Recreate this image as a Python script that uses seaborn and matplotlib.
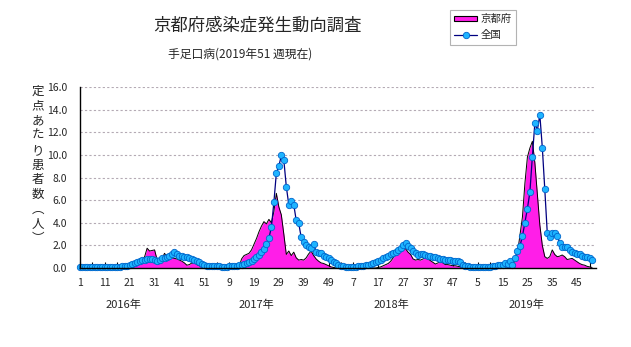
import numpy as np
import pandas as pd
import matplotlib
matplotlib.use('Agg')
import matplotlib.pyplot as plt
import seaborn as sns
from matplotlib.lines import Line2D
from matplotlib.patches import Patch

# ---------------- data ----------------
years = ['2016年', '2017年', '2018年', '2019年']
weeks_per_year = [52, 52, 52, 51]

kyoto_2016 = [0.0, 0.0, 0.0, 0.0, 0.0, 0.0, 0.0, 0.0, 0.0, 0.0, 0.0, 0.0, 0.0,
              0.0, 0.0, 0.0, 0.02, 0.05, 0.1, 0.15, 0.2, 0.3, 0.4, 0.5, 0.55,
              0.7, 1.0, 1.75, 1.5, 1.55, 1.6, 0.75, 0.7, 0.8, 1.3, 1.0, 0.85,
              0.9, 0.85, 0.8, 0.7, 0.6, 0.45, 0.25, 0.3, 0.45, 0.5, 0.3, 0.2,
              0.1, 0.05, 0.0]
kyoto_2017 = [0.0, 0.0, 0.0, 0.0, 0.0, 0.0, 0.0, 0.0, 0.0, 0.0, 0.0, 0.0, 0.1,
              0.8, 1.1, 1.2, 1.3, 1.6, 2.1, 2.6, 3.2, 3.7, 4.1, 3.9, 4.3, 4.0,
              5.0, 6.6, 5.4, 4.7, 3.0, 1.2, 1.5, 1.1, 1.4, 0.9, 0.7, 0.75, 0.7,
              0.9, 1.25, 1.5, 1.1, 0.8, 0.6, 0.45, 0.4, 0.3, 0.2, 0.1, 0.05, 0.0]
kyoto_2018 = [0.0, 0.0, 0.0, 0.0, 0.0, 0.0, 0.0, 0.0, 0.0, 0.0, 0.0, 0.0, 0.0,
              0.0, 0.0, 0.0, 0.05, 0.1, 0.2, 0.3, 0.4, 0.6, 0.9, 1.2, 1.4, 1.6,
              1.75, 1.7, 1.4, 1.2, 0.8, 0.7, 0.75, 0.7, 0.8, 0.9, 0.8, 0.65,
              0.5, 0.35, 0.45, 0.55, 0.45, 0.3, 0.3, 0.25, 0.2, 0.2, 0.15, 0.1,
              0.05, 0.0]
kyoto_2019 = [0.0, 0.0, 0.0, 0.0, 0.0, 0.0, 0.0, 0.0, 0.0, 0.0, 0.0, 0.0, 0.0,
              0.0, 0.05, 0.1, 0.15, 0.2, 0.35, 0.6, 1.3, 2.9, 4.5, 7.5, 9.8,
              10.6, 11.2, 9.3, 6.5, 3.8, 2.0, 1.0, 0.85, 1.0, 1.6, 1.2, 1.0,
              1.05, 1.15, 1.0, 0.75, 0.8, 0.85, 0.7, 0.55, 0.4, 0.3, 0.25, 0.15,
              0.1, 0.05]

national_2016 = [0.12, 0.1, 0.1, 0.09, 0.08, 0.08, 0.08, 0.07, 0.07, 0.07, 0.07,
                 0.08, 0.08, 0.09, 0.1, 0.11, 0.13, 0.15, 0.18, 0.22, 0.28, 0.34,
                 0.45, 0.55, 0.6, 0.68, 0.75, 0.8, 0.82, 0.78, 0.72, 0.65, 0.72,
                 0.85, 0.9, 0.95, 1.05, 1.2, 1.4, 1.25, 1.1, 1.1, 1.0, 0.95, 0.85,
                 0.8, 0.75, 0.6, 0.5, 0.38, 0.28, 0.22]
national_2017 = [0.2, 0.18, 0.16, 0.15, 0.14, 0.13, 0.13, 0.13, 0.14, 0.15, 0.17,
                 0.2, 0.25, 0.3, 0.38, 0.45, 0.55, 0.65, 0.8, 0.95, 1.15, 1.4,
                 1.7, 2.1, 2.65, 3.6, 5.8, 8.4, 9.0, 9.95, 9.55, 7.2, 5.6, 5.95,
                 5.6, 4.2, 3.95, 2.7, 2.3, 2.0, 1.85, 1.8, 2.1, 1.45, 1.35, 1.3,
                 1.1, 1.0, 0.85, 0.75, 0.5, 0.4]
national_2018 = [0.3, 0.2, 0.15, 0.13, 0.12, 0.12, 0.12, 0.13, 0.15, 0.18, 0.22,
                 0.27, 0.3, 0.35, 0.45, 0.55, 0.65, 0.75, 0.85, 1.0, 1.1, 1.2,
                 1.35, 1.45, 1.6, 1.8, 2.05, 2.2, 1.95, 1.75, 1.5, 1.3, 1.15, 1.2,
                 1.25, 1.15, 1.1, 1.05, 1.0, 1.0, 0.9, 0.8, 0.78, 0.75, 0.72, 0.7,
                 0.65, 0.62, 0.58, 0.5, 0.3, 0.2]
national_2019 = [0.15, 0.12, 0.1, 0.1, 0.1, 0.1, 0.1, 0.1, 0.12, 0.13, 0.15, 0.2,
                 0.25, 0.3, 0.25, 0.45, 0.35, 0.6, 0.3, 0.9, 1.5, 1.95, 2.8, 4.0,
                 5.25, 6.7, 9.85, 12.8, 12.15, 13.55, 10.65, 6.95, 3.07, 2.77,
                 3.07, 3.12, 2.83, 2.2, 1.9, 1.85, 1.85, 1.55, 1.45, 1.35, 1.25,
                 1.2, 1.1, 1.0, 0.95, 0.85, 0.7]

tick_labels = ['1', '11', '21', '31', '41', '51', '9', '19', '29', '39', '49',
               '7', '17', '27', '37', '47', '5', '15', '25', '35', '45']
y_ticks = [0, 2, 4, 6, 8, 10, 12, 14, 16]

title = '京都府感染症発生動向調査'
subtitle = '手足口病(2019年51 週現在)'
ylabel_chars = ['定', '点', 'あ', 'た', 'り', '患', '者', '数', '︵', '人', '︶']
series_names = ['京都府', '全国']

kyoto = kyoto_2016 + kyoto_2017 + kyoto_2018 + kyoto_2019
national = national_2016 + national_2017 + national_2018 + national_2019
df = pd.DataFrame({'idx': np.arange(len(kyoto)), 'kyoto': kyoto, 'national': national})

# ---------------- style ----------------
sns.set_theme(style='white')
plt.rcParams['font.family'] = ['Noto Sans CJK JP', 'DejaVu Sans']

W, H = 631, 347
fig = plt.figure(figsize=(W / 100, H / 100), dpi=100)
left, right, top, bottom = 79.5, 596, 87, 268
ax = fig.add_axes([left / W, (H - bottom) / H, (right - left) / W, (bottom - top) / H])

fill_color = '#FF1EE8'
ax.fill_between(df['idx'], 0, df['kyoto'], color=fill_color, lw=0, zorder=2)
sns.lineplot(data=df, x='idx', y='kyoto', color='black', lw=0.7, ax=ax,
             zorder=3, legend=False)
sns.lineplot(data=df, x='idx', y='national', color='#000080', lw=0.9, ax=ax,
             marker='o', markersize=4.6, markerfacecolor='#1EB4FF',
             markeredgecolor='#0066CC', markeredgewidth=0.6, zorder=4,
             legend=False, clip_on=False)

ax.set_xlim(-0.2, 207.6)
ax.set_ylim(0, 16)
ax.set_xlabel('')
ax.set_ylabel('')

ax.set_yticks(y_ticks)
ax.set_yticklabels([f'{v:.1f}' for v in y_ticks], fontsize=7.5)
ax.set_xticks(np.arange(0, len(kyoto), 10))
ax.set_xticklabels(tick_labels, fontsize=7.5)
ax.set_xticks(np.arange(0, len(kyoto), 5), minor=True)
ax.tick_params(axis='x', which='both', direction='in', length=4, width=0.8,
               color='black', pad=7, bottom=True)
ax.tick_params(axis='y', length=0, pad=9)

ax.yaxis.grid(True, linestyle=(0, (2, 2)), color='#B4AAB4', lw=0.8)
ax.xaxis.grid(False)
ax.set_axisbelow(True)
for s in ['top', 'right']:
    ax.spines[s].set_visible(False)
for s in ['left', 'bottom']:
    ax.spines[s].set_color('black')
    ax.spines[s].set_linewidth(1.0)
    ax.spines[s].set_zorder(5)

# titles
fig.text(257 / W, 1 - 26 / H, title, ha='center', va='center', fontsize=12.5)
fig.text(240 / W, 1 - 54 / H, subtitle, ha='center', va='center', fontsize=8.5)

# vertical y label
for k, ch in enumerate(ylabel_chars):
    fig.text(38 / W, 1 - (91 + k * 14.8) / H, ch, ha='center', va='center', fontsize=9)

# year labels
for xpix, yr in zip([123.5, 256.5, 391.5, 526.5], years):
    fig.text(xpix / W, 1 - 305 / H, yr, ha='center', va='center', fontsize=8)

# legend
handles = [Patch(facecolor=fill_color, edgecolor='black', lw=0.8),
           Line2D([0], [0], color='#000080', lw=0.9, marker='o', markersize=4.6,
                  markerfacecolor='#1EB4FF', markeredgecolor='#0066CC', markeredgewidth=0.6)]
leg = fig.legend(handles, series_names, loc='upper left',
                 bbox_to_anchor=(450 / W, 1 - 10 / H), fontsize=7.5,
                 frameon=True, fancybox=False, edgecolor='#A0A0A0',
                 handlelength=2.2, handleheight=0.45, handletextpad=0.3,
                 borderpad=0.4, labelspacing=0.6, borderaxespad=0)
leg.get_frame().set_linewidth(0.8)

fig.savefig('out.png', dpi=100, facecolor='white')
